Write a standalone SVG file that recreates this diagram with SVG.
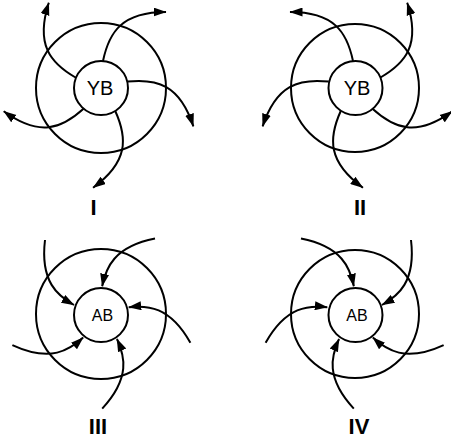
<svg xmlns="http://www.w3.org/2000/svg" xmlns:xlink="http://www.w3.org/1999/xlink" width="451" height="441" viewBox="0 0 451 441">
<style>
.ln{fill:none;stroke:#000;stroke-width:2}
.t{font-family:"Liberation Sans",Arial,sans-serif;fill:#000;text-anchor:middle}
.lab{font-family:"Liberation Sans",Arial,sans-serif;font-weight:bold;font-size:22px;fill:#000;text-anchor:middle}
</style>
<defs>
<marker id="ah" markerUnits="userSpaceOnUse" markerWidth="14" markerHeight="10" refX="12.5" refY="4.5" orient="auto">
<path d="M0,0 L13,4.5 L0,9 z" fill="#000"/>
</marker>
<path id="armOut" class="ln" d="M103,61 C109,32 122,12 166,12" marker-end="url(#ah)"/>
<path id="armIn" class="ln" d="M45,240 C40,282 58,296 74,305" marker-end="url(#ah)"/>
</defs>
<rect width="451" height="441" fill="#fff"/>
<g id="connectors">
<g id="arms-I">
<use xlink:href="#armOut"/>
<use xlink:href="#armOut" transform="rotate(72 101 88)"/>
<use xlink:href="#armOut" transform="rotate(144 101 88)"/>
<use xlink:href="#armOut" transform="rotate(216 101 88)"/>
<use xlink:href="#armOut" transform="rotate(288 101 88)"/>
</g>
<g id="arms-II" transform="translate(456 0) scale(-1 1)">
<use xlink:href="#armOut"/>
<use xlink:href="#armOut" transform="rotate(72 101 88)"/>
<use xlink:href="#armOut" transform="rotate(144 101 88)"/>
<use xlink:href="#armOut" transform="rotate(216 101 88)"/>
<use xlink:href="#armOut" transform="rotate(288 101 88)"/>
</g>
<g id="arms-III">
<use xlink:href="#armIn"/>
<use xlink:href="#armIn" transform="rotate(72 101 315)"/>
<use xlink:href="#armIn" transform="rotate(144 101 315)"/>
<use xlink:href="#armIn" transform="rotate(216 101 315)"/>
<use xlink:href="#armIn" transform="rotate(288 101 315)"/>
</g>
<g id="arms-IV" transform="translate(456 0) scale(-1 1)">
<use xlink:href="#armIn"/>
<use xlink:href="#armIn" transform="rotate(72 101 315)"/>
<use xlink:href="#armIn" transform="rotate(144 101 315)"/>
<use xlink:href="#armIn" transform="rotate(216 101 315)"/>
<use xlink:href="#armIn" transform="rotate(288 101 315)"/>
</g>
</g>
<g id="ring-I"><circle class="ln" cx="101" cy="88" r="65"/></g>
<g id="ring-II"><circle class="ln" cx="355" cy="88" r="64"/></g>
<g id="ring-III"><circle class="ln" cx="101" cy="314" r="65"/></g>
<g id="ring-IV"><circle class="ln" cx="355" cy="314" r="64"/></g>
<g id="node-YB-I"><circle cx="101" cy="88" r="27" fill="#fff" stroke="#000" stroke-width="2"/><text class="t" x="100" y="95" font-size="20">YB</text></g>
<g id="node-YB-II"><circle cx="355.5" cy="88" r="27" fill="#fff" stroke="#000" stroke-width="2"/><text class="t" x="357" y="95" font-size="20">YB</text></g>
<g id="node-AB-III"><circle cx="101" cy="315" r="27" fill="#fff" stroke="#000" stroke-width="2"/><text class="t" x="102.5" y="320.5" font-size="16">AB</text></g>
<g id="node-AB-IV"><circle cx="355.5" cy="315" r="27" fill="#fff" stroke="#000" stroke-width="2"/><text class="t" x="357" y="320.5" font-size="16">AB</text></g>
<g id="labels">
<text class="lab" x="93.5" y="215">I</text>
<text class="lab" x="360" y="215">II</text>
<text class="lab" x="98" y="434">III</text>
<text class="lab" x="359" y="434">IV</text>
</g>
</svg>
